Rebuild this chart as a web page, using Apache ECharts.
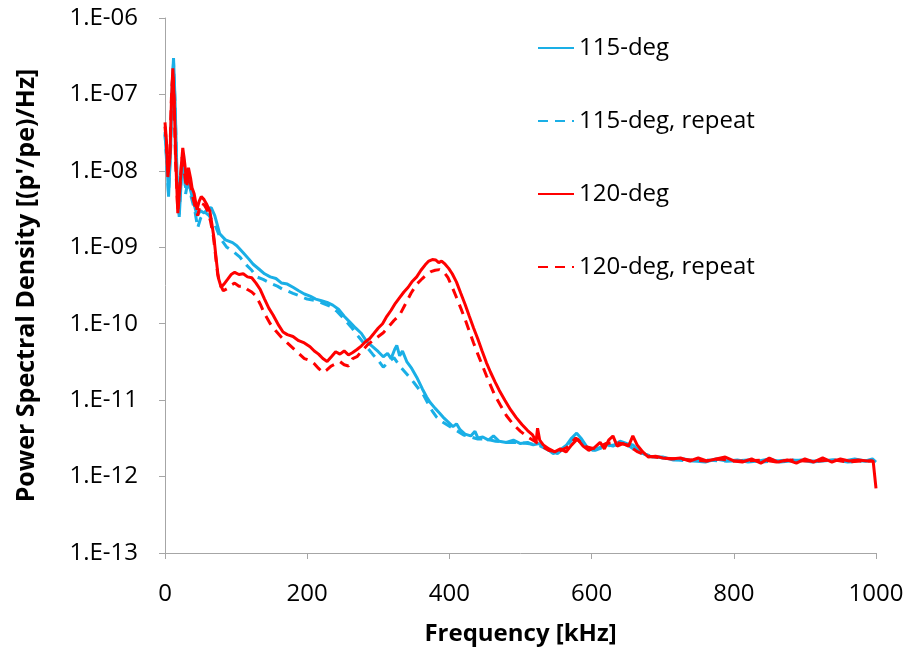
<!DOCTYPE html>
<html>
<head>
<meta charset="utf-8">
<script src="https://cdn.jsdelivr.net/npm/echarts@6/dist/echarts.min.js"></script>
<style>html,body{margin:0;padding:0;background:#fff}#c{width:909px;height:651px}</style>
</head>
<body>
<div id="c"></div>
<script>
// ---- data ----
const seriesNames = ['115-deg', '115-deg, repeat', '120-deg', '120-deg, repeat'];
const xTicks = [0, 200, 400, 600, 800, 1000];

const f115 = [0,3,5,8,10,12,14,17,20,23,26,29,32,36,40,45,50,55,60,65,70,77,85,95,101,110,118,124,132,140,148,156,164,172,180,188,196,204,212,220,228,236,244,252,260,268,276,284,292,300,307,313,318,323,326,330,334,340,347,354,362,368,373,380,386,391,398,405,410,415,422,430,436,440,447,455,462,470,480,490,500,510,518,526,535,546,555,565,572,579,586,594,602,612,622,630,640,650,658,668,678,686,700,715,730,745,760,775,790,805,820,835,850,865,880,895,910,925,940,955,970,985,995,1000];
const v115 = [3.0e-8,1.2e-8,4.6e-9,2.0e-8,1.2e-7,3.0e-7,9e-8,8e-9,2.5e-9,8e-9,1.7e-8,6e-9,9e-9,5.5e-9,4e-9,2.6e-9,3.0e-9,2.8e-9,3.2e-9,3.3e-9,2.6e-9,1.5e-9,1.25e-9,1.15e-9,1.05e-9,8.5e-10,7e-10,6e-10,5.2e-10,4.5e-10,4.1e-10,3.9e-10,3.4e-10,3.3e-10,3.0e-10,2.7e-10,2.45e-10,2.3e-10,2.1e-10,2.0e-10,1.9e-10,1.75e-10,1.55e-10,1.25e-10,1.05e-10,8.8e-11,7.5e-11,5.8e-11,5.0e-11,4.3e-11,3.7e-11,4.1e-11,3.5e-11,4.6e-11,5.2e-11,3.8e-11,4.4e-11,3.2e-11,2.6e-11,2.0e-11,1.4e-11,1.1e-11,9.3e-12,7.8e-12,6.8e-12,6.0e-12,5.2e-12,4.5e-12,4.9e-12,4.1e-12,3.6e-12,3.4e-12,3.9e-12,3.2e-12,3.3e-12,3.0e-12,3.4e-12,2.9e-12,2.8e-12,3.0e-12,2.7e-12,2.8e-12,2.6e-12,2.7e-12,2.4e-12,2.0e-12,2.2e-12,2.6e-12,3.2e-12,3.7e-12,3.1e-12,2.4e-12,2.2e-12,2.4e-12,2.6e-12,2.5e-12,2.9e-12,2.7e-12,2.6e-12,2.1e-12,1.9e-12,1.8e-12,1.8e-12,1.65e-12,1.7e-12,1.6e-12,1.55e-12,1.7e-12,1.6e-12,1.65e-12,1.55e-12,1.6e-12,1.7e-12,1.55e-12,1.6e-12,1.65e-12,1.55e-12,1.6e-12,1.65e-12,1.6e-12,1.7e-12,1.6e-12,1.7e-12,1.55e-12];

const f115r = [0,3,5,8,10,12,14,17,20,23,26,29,33,37,42,46,50,56,62,70,78,87,96,105,115,122,129,138,148,158,166,172,180,190,200,212,222,232,242,252,262,272,282,292,300,307,315,322,330,340,350,357,363,370,376,382,390,396,404,412,420,430,440,452,465,480,495,510,525,540,552,565,578,590,605,620,635,650,665,680,700,720,740,760,780,800,820,840,860,880,900,920,940,960,980,1000];
const v115r = [3.2e-8,1e-8,5e-9,2.2e-8,1.3e-7,2.6e-7,8e-8,7e-9,2.7e-9,9e-9,1.6e-8,5e-9,8e-9,4.5e-9,3.0e-9,1.8e-9,2.4e-9,2.9e-9,2.6e-9,2.0e-9,1.3e-9,1.0e-9,8.8e-10,7.5e-10,5.8e-10,5.0e-10,4.1e-10,3.8e-10,3.4e-10,3.1e-10,2.8e-10,2.7e-10,2.5e-10,2.3e-10,2.1e-10,2.0e-10,1.85e-10,1.7e-10,1.45e-10,1.15e-10,9.0e-11,6.8e-11,5.2e-11,4.0e-11,3.3e-11,2.7e-11,3.2e-11,3.6e-11,2.8e-11,2.2e-11,1.7e-11,1.4e-11,1.2e-11,9e-12,7.2e-12,6.0e-12,5.2e-12,4.8e-12,4.3e-12,3.9e-12,3.5e-12,3.3e-12,3.1e-12,3.1e-12,2.9e-12,2.8e-12,2.8e-12,2.7e-12,2.6e-12,2.2e-12,2.0e-12,2.5e-12,3.5e-12,2.6e-12,2.2e-12,2.5e-12,2.6e-12,2.6e-12,2.1e-12,1.9e-12,1.75e-12,1.65e-12,1.6e-12,1.65e-12,1.6e-12,1.6e-12,1.65e-12,1.55e-12,1.6e-12,1.65e-12,1.6e-12,1.6e-12,1.65e-12,1.55e-12,1.6e-12,1.6e-12];

const f120 = [0,2,4,7,9,11,13,15,18,21,23,25,28,30,33,36,38,41,45,48,51,55,59,63,66,69,72,75,79,83,88,93,98,104,110,116,122,128,134,140,146,152,160,166,172,180,188,196,204,210,216,222,228,234,240,246,252,258,264,270,276,282,288,294,300,306,312,318,324,330,336,342,348,354,360,366,371,376,381,385,389,394,399,404,410,416,422,428,434,440,446,452,458,464,470,478,486,494,502,510,517,522,524,527,532,540,548,556,564,572,580,588,596,604,612,618,624,630,636,644,652,658,664,672,680,690,700,712,725,738,750,762,775,788,800,812,825,838,850,862,875,888,900,912,925,938,950,962,975,988,996,1000];
const v120 = [4.3e-8,2.5e-8,8.3e-9,1.5e-8,8e-8,2.2e-7,8e-8,1.5e-8,2.8e-9,6e-9,1.2e-8,2.0e-8,1.2e-8,7.6e-9,1.1e-8,8e-9,6e-9,5e-9,3.1e-9,4e-9,4.6e-9,4.2e-9,3.6e-9,3.0e-9,2.0e-9,1.3e-9,7e-10,4.0e-10,3.0e-10,3.3e-10,3.8e-10,4.4e-10,4.7e-10,4.4e-10,4.5e-10,4.1e-10,4.0e-10,3.4e-10,2.8e-10,2.1e-10,1.6e-10,1.3e-10,9.5e-11,7.8e-11,7.2e-11,6.8e-11,6.0e-11,5.6e-11,5.0e-11,4.4e-11,4.0e-11,3.5e-11,3.2e-11,3.7e-11,4.3e-11,4.0e-11,4.4e-11,3.9e-11,4.2e-11,4.6e-11,5.1e-11,5.8e-11,6.4e-11,7.5e-11,8.8e-11,1.0e-10,1.25e-10,1.5e-10,1.85e-10,2.2e-10,2.6e-10,3.0e-10,3.6e-10,4.1e-10,5.0e-10,5.9e-10,6.6e-10,6.9e-10,6.8e-10,6.3e-10,6.6e-10,6.0e-10,5.3e-10,4.5e-10,3.5e-10,2.5e-10,1.8e-10,1.25e-10,8.8e-11,6.3e-11,4.4e-11,3.1e-11,2.3e-11,1.75e-11,1.35e-11,1.0e-11,7.5e-12,5.9e-12,4.8e-12,4.0e-12,3.5e-12,2.9e-12,4.3e-12,3.0e-12,2.6e-12,2.3e-12,2.1e-12,2.3e-12,2.1e-12,2.6e-12,3.1e-12,2.5e-12,2.2e-12,2.4e-12,2.8e-12,2.3e-12,3.0e-12,3.4e-12,2.5e-12,2.7e-12,2.5e-12,3.4e-12,2.6e-12,2.1e-12,1.8e-12,1.85e-12,1.75e-12,1.7e-12,1.75e-12,1.6e-12,1.75e-12,1.6e-12,1.7e-12,1.8e-12,1.6e-12,1.55e-12,1.7e-12,1.5e-12,1.75e-12,1.55e-12,1.65e-12,1.5e-12,1.7e-12,1.55e-12,1.75e-12,1.55e-12,1.7e-12,1.6e-12,1.65e-12,1.6e-12,1.6e-12,7e-13];

const f120r = [0,2,4,7,9,11,13,15,18,21,24,27,30,34,38,42,46,50,55,60,64,68,71,74,78,82,88,93,98,104,110,116,122,128,134,140,148,156,164,172,180,188,196,204,210,216,222,228,234,240,246,252,258,264,270,276,284,292,300,307,314,322,330,338,346,354,362,368,374,380,386,392,398,404,410,416,422,428,434,440,446,452,458,464,472,480,490,500,510,520,530,540,552,565,578,590,605,620,635,650,665,680,700,720,740,760,780,800,820,840,860,880,900,920,940,960,980,995];
const v120r = [3.8e-8,2.2e-8,9e-9,1.8e-8,9e-8,1.9e-7,7e-8,1.2e-8,3.0e-9,6.5e-9,1.5e-8,1.0e-8,6e-9,9e-9,5e-9,3.5e-9,2.6e-9,3.8e-9,3.6e-9,3.0e-9,2.2e-9,1.4e-9,8e-10,4.5e-10,3.2e-10,2.7e-10,2.9e-10,3.2e-10,3.4e-10,3.1e-10,3.1e-10,2.8e-10,2.6e-10,2.3e-10,1.8e-10,1.35e-10,1.0e-10,8e-11,6.6e-11,5.6e-11,4.8e-11,4.1e-11,3.5e-11,3.3e-11,3.0e-11,2.6e-11,2.3e-11,2.5e-11,2.8e-11,3.0e-11,3.2e-11,2.9e-11,2.8e-11,3.5e-11,3.7e-11,4.3e-11,5.2e-11,6.0e-11,6.8e-11,7.6e-11,9e-11,1.1e-10,1.3e-10,1.8e-10,2.5e-10,3.3e-10,3.9e-10,4.4e-10,4.8e-10,5.0e-10,5.1e-10,4.8e-10,4.0e-10,3.0e-10,2.2e-10,1.6e-10,1.15e-10,8e-11,5.6e-11,4.0e-11,2.9e-11,2.1e-11,1.55e-11,1.15e-11,8.5e-12,6.3e-12,4.8e-12,3.9e-12,3.3e-12,2.9e-12,2.5e-12,2.2e-12,2.1e-12,2.4e-12,3.2e-12,2.5e-12,2.3e-12,2.7e-12,2.8e-12,2.6e-12,2.1e-12,1.85e-12,1.75e-12,1.7e-12,1.65e-12,1.6e-12,1.7e-12,1.6e-12,1.6e-12,1.65e-12,1.55e-12,1.65e-12,1.6e-12,1.6e-12,1.65e-12,1.55e-12,1.6e-12,1.6e-12];

const xs = [f115, f115r, f120, f120r];
const ys = [v115, v115r, v120, v120r];
const colors = ['#1AAFE6', '#1AAFE6', '#FF0000', '#FF0000'];
const dashed = [false, true, false, true];

function pairs(a, b){ return a.map((x,i)=>[x, b[i]]); }

const chart = echarts.init(document.getElementById('c'), null, {renderer:'canvas'});
const tickFont = 'Open Sans';
const axisGray = '#A6A6A6';
chart.setOption({
  animation: false,
  backgroundColor: '#fff',
  grid: {left:165, right:33, top:18, bottom:98, containLabel:false},
  legend: {
    orient:'vertical', left:537, top:36, padding:0,
    itemWidth:36, itemHeight:14, itemGap:49,
    itemStyle:{opacity:0},
    textStyle:{fontFamily:tickFont, fontSize:24, color:'#000', lineHeight:24, padding:[0,0,0,0]},
    data: seriesNames
  },
  xAxis: {
    type:'value', min:xTicks[0], max:xTicks[xTicks.length-1], interval:200,
    axisLine:{show:true, lineStyle:{color:axisGray, width:1}},
    axisTick:{show:true, inside:false, length:6, lineStyle:{color:axisGray}},
    axisLabel:{fontFamily:tickFont, fontSize:24, color:'#000', margin:29, formatter:function(v){return String(v);}},
    splitLine:{show:false},
    name:'Frequency [kHz]', nameLocation:'middle', nameGap:69,
    nameTextStyle:{fontFamily:'Open Sans', fontWeight:'bold', fontSize:24, color:'#000'}
  },
  yAxis: {
    type:'log', logBase:10, min:1e-13, max:1e-6, interval:1,
    axisLine:{show:true, lineStyle:{color:axisGray, width:1}},
    axisTick:{show:true, inside:false, length:6, lineStyle:{color:axisGray}},
    axisLabel:{fontFamily:tickFont, fontSize:24, color:'#000', margin:27,
      formatter:function(v){ const e=Math.round(Math.log10(v)); return '1.E'+(e<0?'-':'+')+String(Math.abs(e)).padStart(2,'0'); }},
    splitLine:{show:false},
    name:"Power Spectral Density [(p'/pe)/Hz]", nameLocation:'middle', nameGap:126,
    nameTextStyle:{fontFamily:'Open Sans', fontWeight:'bold', fontSize:25, color:'#000'}
  },
  series: seriesNames.map((n,i)=>({
    name:n, type:'line', data:pairs(xs[i], ys[i]), symbol:'none', showSymbol:false, smooth:false,
    z: i>=2 ? 3 : 2,
    lineStyle:{color:colors[i], width:3, type: dashed[i] ? [10,7] : 'solid'},
    itemStyle:{color:colors[i]}
  }))
});
</script>
</body>
</html>
